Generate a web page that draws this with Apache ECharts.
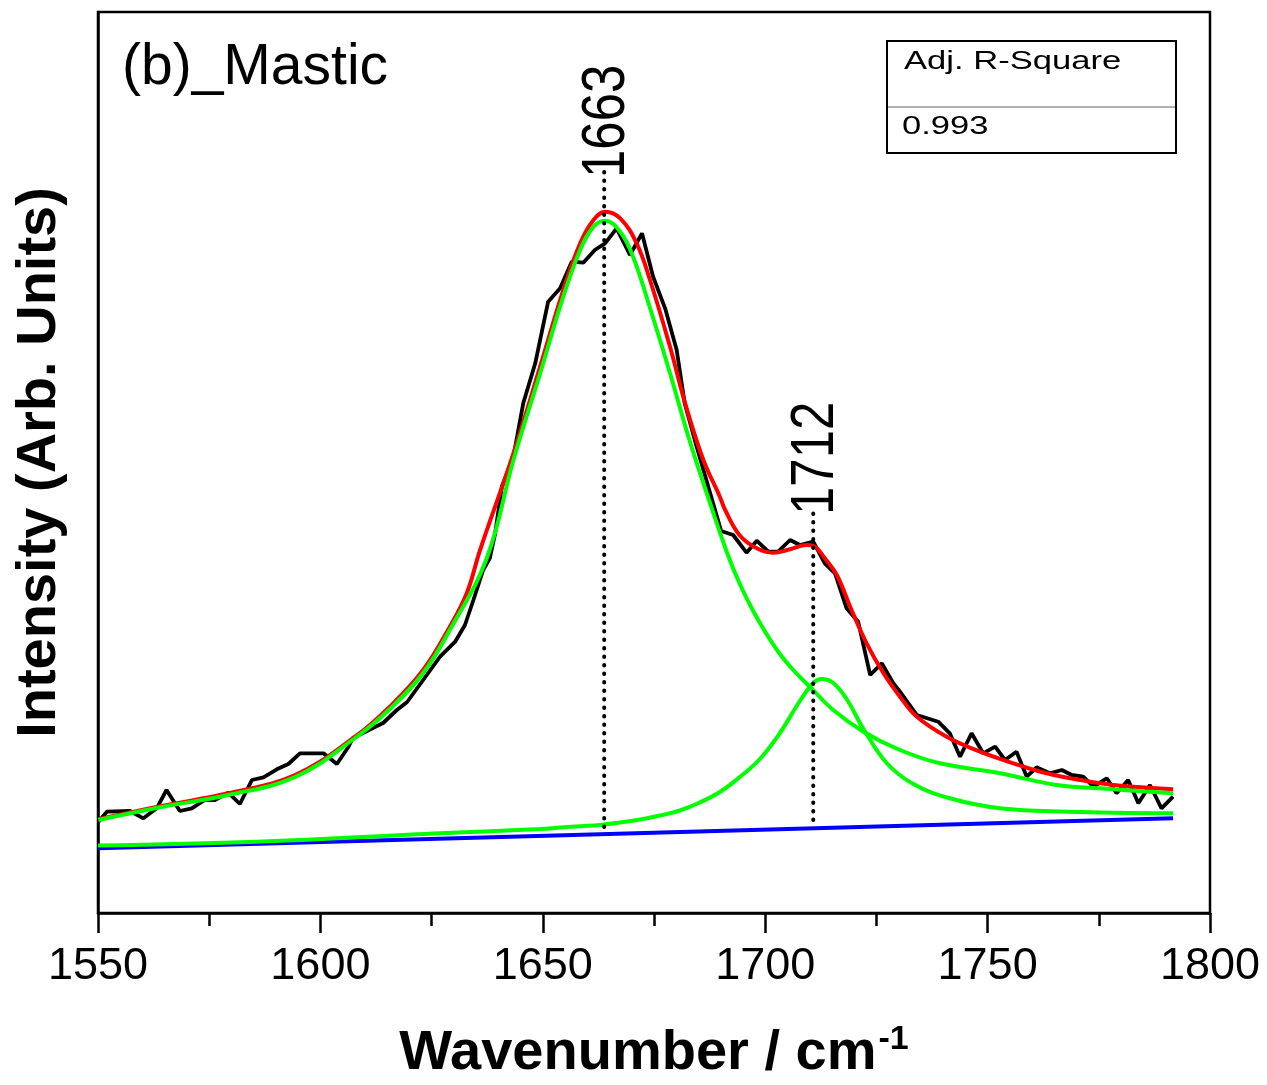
<!DOCTYPE html>
<html>
<head>
<meta charset="utf-8">
<script src="https://cdn.jsdelivr.net/npm/echarts@6/dist/echarts.min.js"></script>
<style>
html,body{margin:0;padding:0;background:#fff;}
#c{width:1267px;height:1085px;}
</style>
</head>
<body>
<div id="c"></div>
<script>
// Measured spectrum (wavenumber, intensity in arbitrary units)
var dataX = [1550.1,1552,1557.2,1560.2,1563.2,1565.4,1568.4,1571.1,1574,1576.3,1579.3,1581.9,1584.6,1587.2,1590.2,1592.8,1595.4,1600.7,1603.7,1606.3,1607.3,1611.8,1614.1,1617.2,1619.5,1623.1,1626.9,1630.3,1632.5,1634.4,1636.6,1638.1,1639.3,1640.8,1643.4,1645.6,1648.3,1651.2,1653.9,1656.5,1659.1,1661.7,1664.0,1666.6,1669.6,1672.3,1674.8,1677.5,1680.1,1681.9,1684.6,1690.1,1692.8,1695.8,1698.1,1700.7,1702.9,1705.6,1707.8,1710.8,1713.4,1715.7,1718.3,1720.9,1723.6,1726.2,1728.8,1730.3,1734.1,1738.9,1741.5,1743.8,1746.4,1749.0,1751.7,1753.9,1756.5,1758.8,1761.0,1764.0,1766.7,1768.9,1771.5,1773.8,1776.8,1779.0,1781.6,1783.9,1786.5,1789.1,1791.7];
var dataY = [91.3,101.3,102,94.7,104.7,123,102,104.7,113,113,120.3,109,133,135.7,143.7,149,159.7,159.7,149,166,175,185,190,203,211,233,256.3,271.3,288,313,343,355,380,426.3,456.3,509.7,549.7,611.3,624.7,651.3,650.3,663,669.7,684.7,658,679.7,636.3,604.7,563,509.7,466.3,382,378,360.3,372.3,361.3,361.3,373,368,371.3,349.7,339.7,304.7,291.3,238,249.7,229.7,221.3,198,191.3,179.7,156.3,179.7,159.7,166.3,153,161.3,136.3,145.7,139.7,143,138,136.3,126.3,134.7,119.7,133,109.7,128,104.7,116.3];

// Cumulative fit (red)
var fitX = [1550.1,1564.3,1579.3,1594.3,1607.8,1615.6,1623.1,1629.1,1632.9,1635.9,1643.4,1649.4,1654.6,1658.4,1661.4,1664.0,1667.4,1671.1,1674.1,1678.6,1682.0,1686.1,1689.8,1691.0,1694.2,1698.1,1701.8,1705.6,1709.3,1711.2,1713.4,1716.1,1719.1,1722.8,1726.6,1730.3,1734.1,1740.8,1748.3,1755.8,1763.3,1770.8,1778.3,1791.7];
var fitY = [93.7,107,119.7,138,176.3,206.3,243,286.3,319.7,363,459.7,546.3,623,669.7,693,701.3,694.7,669.7,633,566.3,509.7,453,416.3,403,378,364.7,360.3,363.7,368,366.3,354.7,338,306.3,269.7,239.7,216.3,196.3,176.3,161.3,149.7,139.7,133,128,123.7];

// Fitted peak 1 (green, 1663)
var peak1X = [1550.1,1564.3,1579.3,1594.3,1607.8,1615.6,1623.1,1629.1,1637.4,1643.4,1649.4,1654.6,1658.4,1661.4,1664.0,1667.4,1670.3,1674.1,1678.6,1683.1,1687.6,1691.7,1694.4,1697.3,1700.3,1703.3,1706.3,1710.1,1715.3,1722.1,1730.3,1739.3,1752.8,1765.5,1775.3,1791.7];
var peak1Y = [93,106,118,136,175,204,240,283,354.7,453,539.7,616.3,663,686.3,692.3,681.3,656.3,605,539.7,471,410,357,328,302,279,259,243,226,203,181.3,163,149.7,139.7,128,124.7,119.7];

// Fitted peak 2 (green, 1712)
var peak2X = [1550,1585.7,1626.9,1649.4,1654,1658.5,1662.9,1667.4,1671.9,1676.3,1680.8,1685.3,1689.8,1694.3,1698.8,1703.3,1707.8,1710.8,1712.7,1715.3,1718.3,1722.1,1727.3,1733.3,1741.5,1752.8,1767.8,1791.7];
var peak2Y = [67.5,71.3,79.7,84,85.5,86.8,88,90.5,93.5,97.5,102.5,110.5,121,136,154,180,212,230,234,230,214,184,150,129,114.7,104.7,101.3,99.7];

// Baseline (blue)
var baseX = [1550, 1791.7];
var baseY = [64.7, 94.7];

// Peak markers
var peakPos = [1663.8, 1710.8];
var peakLabels = ['1663', '1712'];
var peakLineBottom = [86, 93];
var peakLineTop = [743, 406];

// Axis ticks
var xTicks = [1550, 1600, 1650, 1700, 1750, 1800];

function zip(a, b) { return a.map(function (v, i) { return [v, b[i]]; }); }

var chart = echarts.init(document.getElementById('c'));
var FONT = '"Liberation Sans", Arial, sans-serif';

var series = [
  { type: 'line', data: zip(dataX, dataY), symbol: 'none', lineStyle: { color: '#000', width: 3.8 }, z: 2 },
  { type: 'line', data: zip(fitX, fitY), symbol: 'none', smooth: 0.4, lineStyle: { color: '#ff0000', width: 4 }, z: 3 },
  { type: 'line', data: zip(baseX, baseY), symbol: 'none', lineStyle: { color: '#0000ff', width: 4 }, z: 3 },
  { type: 'line', data: zip(peak1X, peak1Y), symbol: 'none', smooth: 0.4, lineStyle: { color: '#00ff00', width: 4 }, z: 4 },
  { type: 'line', data: zip(peak2X, peak2Y), symbol: 'none', smooth: 0.4, lineStyle: { color: '#00ff00', width: 4 }, z: 4 }
];
peakPos.forEach(function (p, i) {
  series.push({ type: 'line', data: [[p, peakLineBottom[i]], [p, peakLineTop[i]]], symbol: 'none',
    lineStyle: { color: '#000', width: 4, type: [0.5, 8], cap: 'round' }, z: 5 });
});

chart.setOption({
  animation: false,
  grid: { left: 98, right: 57, top: 12, bottom: 172, show: true, borderColor: '#000', borderWidth: 2.5,
    containLabel: false, outerBoundsMode: 'none' },
  xAxis: {
    type: 'value', min: 1550, max: 1800, interval: 50,
    axisLine: { lineStyle: { color: '#000', width: 2.5 } },
    axisTick: { inside: false, length: 20, lineStyle: { color: '#000', width: 2.5 } },
    minorTick: { show: true, splitNumber: 2, length: 13, lineStyle: { color: '#000', width: 2.5 } },
    splitLine: { show: false },
    axisLabel: { fontSize: 45, color: '#000', fontFamily: FONT, margin: 31,
      formatter: function (v) { return xTicks.indexOf(v) >= 0 ? String(v) : ''; } },
    name: '{a|Wavenumber / cm}{s|-1}',
    nameLocation: 'middle', nameGap: 110,
    nameTextStyle: {
      rich: {
        a: { fontSize: 56, fontWeight: 'bold', color: '#000', fontFamily: FONT },
        s: { fontSize: 34, fontWeight: 'bold', color: '#000', fontFamily: FONT, padding: [0, 0, 28, 2] }
      }
    }
  },
  yAxis: {
    type: 'value', min: 0, max: 901,
    axisLine: { show: true, lineStyle: { color: '#000', width: 2.5 } },
    axisTick: { show: false }, axisLabel: { show: false }, splitLine: { show: false },
    name: 'Intensity (Arb. Units)', nameLocation: 'middle', nameGap: 30,
    nameTextStyle: { fontSize: 56, fontWeight: 'bold', color: '#000', fontFamily: FONT }
  },
  series: series
});

// Annotations
var g = [];
g.push({ type: 'text', left: 122, top: 40, style: { text: '(b)_Mastic', font: '57px ' + FONT, fill: '#000' } });
// Adj. R-Square box
g.push({ type: 'rect', shape: { x: 887, y: 41, width: 289, height: 112 }, style: { fill: '#fff', stroke: '#000', lineWidth: 2 }, z: 10 });
g.push({ type: 'line', shape: { x1: 888, y1: 107, x2: 1175, y2: 107 }, style: { stroke: '#b0b0b0', lineWidth: 2 }, z: 11 });
g.push({ type: 'text', x: 904, y: 62, scaleX: 1.33, z: 11, style: { text: 'Adj. R-Square', font: '26px ' + FONT, fill: '#000', textVerticalAlign: 'middle' } });
g.push({ type: 'text', x: 902, y: 127, scaleX: 1.33, z: 11, style: { text: '0.993', font: '26px ' + FONT, fill: '#000', textVerticalAlign: 'middle' } });
peakPos.forEach(function (p, i) {
  var pt = chart.convertToPixel({ gridIndex: 0 }, [p, peakLineTop[i]]);
  g.push({ type: 'text', x: pt[0] + 3, y: pt[1] + 8, rotation: Math.PI / 2, scaleY: 1.2, z: 12,
    style: { text: peakLabels[i], font: '51px ' + FONT, fill: '#000', textAlign: 'left', textVerticalAlign: 'middle' } });
});
chart.setOption({ graphic: g });
</script>
</body>
</html>
